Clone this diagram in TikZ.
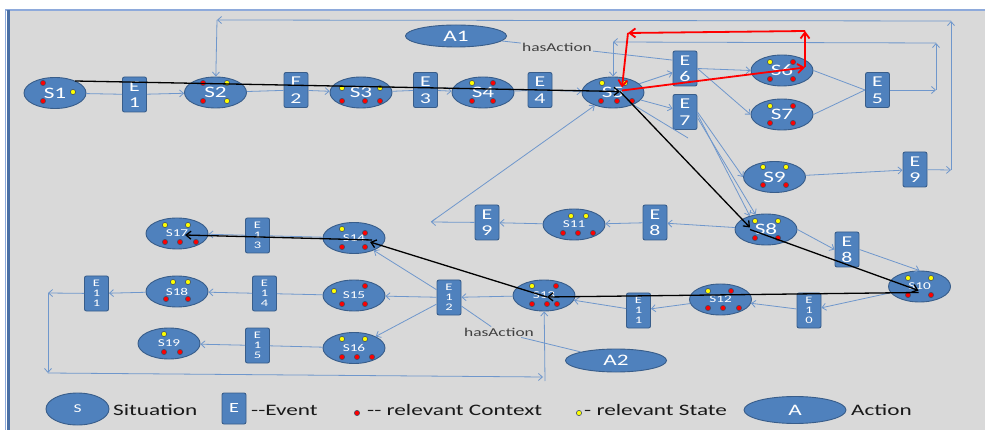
\documentclass[tikz,border=0pt]{standalone}
\usepackage{fontspec}
\setmainfont{Carlito}[FakeStretch=1.45]
\usetikzlibrary{arrows.meta,shapes.geometric}
\definecolor{bgc}{HTML}{D9D9D9}
\definecolor{nfill}{HTML}{4F81BD}
\definecolor{ndraw}{HTML}{385D8A}
\definecolor{lnblue}{HTML}{6F97CC}
\definecolor{frameL}{HTML}{4A6FA5}
\definecolor{frameT}{HTML}{8EAADB}
\definecolor{dotred}{HTML}{FF0000}
\definecolor{dotyel}{HTML}{FFFF00}
\definecolor{dotrim}{HTML}{3F4F6A}
\newcommand\rdotat[2]{\filldraw[rdot] (#1,#2) circle (2.6pt);}
\newcommand\ydotat[2]{\filldraw[ydot] (#1,#2) circle (2.6pt);}
\tikzset{
 snode/.style={ellipse, fill=nfill, draw=ndraw, line width=0.9pt, minimum width=62pt, minimum height=31pt, inner sep=0pt, text=white, font=\fontsize{16}{17}\selectfont},
 ssmall/.style={snode, font=\fontsize{10.5}{11}\selectfont},
 ebox/.style={rectangle, rounded corners=2pt, fill=nfill, draw=ndraw, line width=0.9pt, minimum width=24pt, minimum height=35pt, inner sep=0pt, text=white, align=center, font=\fontsize{15}{16.5}\selectfont},
 esmall/.style={ebox, font=\fontsize{10}{10}\selectfont},
 anode/.style={ellipse, fill=nfill, draw=ndraw, line width=0.9pt, minimum width=101pt, minimum height=22pt, inner sep=0pt, text=white, font=\fontsize{16}{17}\selectfont},
 blink/.style={draw=lnblue, line width=0.8pt},
 barr/.style={blink, -{Straight Barb[length=4pt,width=7pt]}},
 karr/.style={draw=black, line width=1.3pt, -{Straight Barb[length=5pt,width=8pt]}},
 rarr/.style={draw=red, line width=1.8pt, -{Straight Barb[length=6pt,width=9pt]}},
 rdot/.style={fill=dotred, draw=dotrim, line width=0.6pt},
 ydot/.style={fill=dotyel, draw=dotrim, line width=0.6pt},
 legtext/.style={anchor=west, inner sep=0pt, text=black!90, font=\fontsize{16}{17}\selectfont},
 hastext/.style={inner sep=1pt, text=black!75, font=\fontsize{12}{13}\selectfont},
}
\begin{document}
\begin{tikzpicture}[x=1pt,y=-1pt]
\useasboundingbox (0,0) rectangle (985,430);
% frame
\fill[white] (0,0) rectangle (985,430);
\fill[bgc] (7,10) rectangle (985,430);
\draw[frameT, line width=1.5pt] (5,10) -- (985,10);
\draw[frameT, line width=1.2pt] (5.5,10) -- (5.5,430);
\draw[frameL, line width=3pt] (8.5,10) -- (8.5,430);

% nodes
\node[snode] (S1) at (55,93) {S1};
\node[ebox] (E1) at (134.5,94.5) {E\\1};
\node[snode] (S2) at (215.5,92.5) {S2};
\node[ebox] (E2) at (296,90) {E\\2};
\node[snode] (S3) at (361,92.5) {S3};
\node[ebox] (E3) at (425.5,90) {E\\3};
\node[snode] (S4) at (483,92.5) {S4};
\node[ebox] (E4) at (540,90) {E\\4};
\node[snode] (S5) at (613,92.5) {S5};
\node[anode] (A1) at (456,36) {A1};
\node[hastext] (H1) at (557,47) {hasAction};
\node[ebox] (E6) at (685,68.5) {E\\6};
\node[ebox] (E7) at (685,112) {E\\7};
\node[snode] (S6) at (782,70.5) {S6};
\node[snode] (S7) at (782,114.5) {S7};
\node[ebox] (E5) at (877.5,90) {E\\5};
\node[snode] (S9) at (774.5,177) {S9};
\node[ebox] (E9r) at (915,169.5) {E\\9};
\node[snode] (S8) at (766,229.5) {S8};
\node[ebox] (E8r) at (847,249.5) {E\\8};
\node[ssmall] (S10) at (919.5,286.5) {S10};
\node[esmall] (E10) at (809,310.5) {E\\1\\0};
\node[ssmall] (S12) at (720.5,299.5) {S12};
\node[esmall] (E11r) at (638.5,310.5) {E\\1\\1};
\node[ebox] (E8l) at (655,222.5) {E\\8};
\node[ssmall] (S11) at (574,224.5) {S11};
\node[ebox] (E9l) at (487,222.5) {E\\9};
\node[ssmall] (S13) at (544,295.5) {S13};
\node[esmall] (E12) at (449,297.5) {E\\1\\2};
\node[ssmall] (S14) at (354,238) {S14};
\node[ssmall] (S15) at (354,295.5) {S15};
\node[ssmall] (S16) at (354,348) {S16};
\node[anode, minimum height=23pt] (A2) at (616,360.5) {A2};
\node[hastext] (H2) at (499,332) {hasAction};
\node[ssmall] (S17) at (177,233.5) {S17};
\node[esmall] (E13) at (257.5,235.5) {E\\1\\3};
\node[ssmall] (S18) at (177,291.5) {S18};
\node[esmall] (E14) at (264.5,293.5) {E\\1\\4};
\node[esmall] (E11l) at (96.5,293.5) {E\\1\\1};
\node[ssmall] (S19) at (169,343.5) {S19};
\node[esmall] (E15) at (257.5,345.5) {E\\1\\5};

% coordinates
\coordinate (t1) at (951,170);
\coordinate (t2) at (951,21);
\coordinate (t3) at (217,20);
\coordinate (u1) at (936,90);
\coordinate (u2) at (936,43);
\coordinate (u3) at (613,42);
\coordinate (v1) at (431,222);
\coordinate (w1) at (48,293);
\coordinate (w2) at (48,373);
\coordinate (w3) at (543,377);
\coordinate (w4) at (545,381);
\coordinate (st) at (688,138);
\coordinate (r2) at (805,31);
\coordinate (r3) at (628,33);

% blue connectors
\draw[blink] (S1) -- (E1);
\draw[barr] (E1) -- (S2);
\draw[blink] (S2) -- (E2);
\draw[barr] (E2) -- (S3);
\draw[blink] (S3) -- (E3);
\draw[barr] (E3) -- (S4);
\draw[blink] (S4) -- (E4);
\draw[barr] (E4) -- (S5);
\draw[barr] (S5) -- (E6);
\draw[barr] (S5) -- (E7);
\draw[blink] (S5) -- (st);
\draw[barr] (E6.east) -- (S6.west);
\draw[barr] (E6.east) -- (S7.west);
\draw[blink] (S6.east) -- (E5.west);
\draw[blink] (S7.east) -- (E5.west);
\draw[barr] (E7.east) -- (S9.west);
\draw[barr] (E7.-10) -- (S8.140);
\draw[barr] (E7.-25) -- (S8.125);
\draw[barr] (S9) -- (E9r);
\draw[barr] (E9r) -- (t1);
\draw[barr] (t1) -- (t2);
\draw[barr] (t2) -- (t3);
\draw[barr] (t3) -- (S2);
\draw[barr] (E5) -- (u1);
\draw[barr] (u1) -- (u2);
\draw[barr] (u2) -- (u3);
\draw[barr] (u3) -- (S5);
\draw[barr] (S8) -- (E8l);
\draw[barr] (E8l) -- (S11);
\draw[barr] (S11) -- (E9l);
\draw[barr] (E9l) -- (v1);
\draw[barr] (v1) -- (S5);
\draw[barr] (S8.east) -- (E8r.west);
\draw[barr] (E8r.east) -- (S10.north);
\draw[barr] (S10) -- (E10);
\draw[barr] (E10) -- (S12);
\draw[barr] (S12) -- (E11r);
\draw[barr] (E11r) -- (S13);
\draw[barr] (S13) -- (E12);
\draw[barr] (E12) -- (S14);
\draw[barr] (E12) -- (S15);
\draw[barr] (E12) -- (S16);
\draw[blink] (S14) -- (E13);
\draw[barr] (E13) -- (S17);
\draw[blink] (S15) -- (E14);
\draw[barr] (E14) -- (S18);
\draw[blink] (S16) -- (E15);
\draw[barr] (E15) -- (S19);
\draw[barr] (S18) -- (E11l);
\draw[barr] (E11l) -- (w1);
\draw[barr] (w1) -- (w2);
\draw[barr] (w2) -- (w3);
\draw[barr] (w4) -- (S13);
\draw[blink] (A1) -- (H1);
\draw[blink] (H1) -- (E6.146);
\draw[blink] (E12) -- (H2);
\draw[blink] (H2) -- (A2);

% dots
\rdotat{43}{83}\rdotat{43}{101}\ydotat{73}{92}
\rdotat{203}{83}\ydotat{227}{83}\rdotat{203}{101}\ydotat{227}{101}
\ydotat{342}{88}\ydotat{380}{88}\rdotat{342}{101}\rdotat{365}{101}\rdotat{380}{101}
\ydotat{472}{83}\rdotat{493}{83}\rdotat{472}{101}\rdotat{493}{101}
\ydotat{602}{83}\ydotat{625}{83}\rdotat{601}{101}\rdotat{617}{101}\rdotat{632}{101}
\ydotat{770}{62}\rdotat{793}{62}\rdotat{770}{79}\rdotat{793}{79}
\ydotat{770}{106}\rdotat{793}{106}\rdotat{770}{123}\rdotat{793}{123}
\ydotat{763}{167}\ydotat{786}{167}\rdotat{763}{185}\rdotat{786}{185}
\ydotat{755}{221}\ydotat{778}{221}\rdotat{755}{238}\rdotat{778}{238}
\ydotat{908}{278}\ydotat{931}{278}\rdotat{908}{295}\rdotat{931}{295}
\ydotat{708}{291}\rdotat{731}{291}\rdotat{708}{308}\rdotat{723}{308}\rdotat{739}{308}
\ydotat{571}{216}\ydotat{586}{216}\rdotat{563}{233}\rdotat{578}{233}\rdotat{593}{233}
\ydotat{532}{286}\rdotat{556}{286}\rdotat{532}{304}\rdotat{547}{304}\rdotat{557}{304}
\ydotat{342}{229}\rdotat{365}{233}\rdotat{342}{247}\rdotat{365}{247}
\ydotat{334}{291}\rdotat{365}{286}\rdotat{342}{304}\rdotat{365}{304}
\ydotat{342}{339}\ydotat{365}{339}\rdotat{342}{357}\rdotat{357}{357}\rdotat{372}{357}
\ydotat{165}{225}\ydotat{188}{225}\rdotat{165}{242}\rdotat{180}{242}\rdotat{196}{242}
\ydotat{173}{282}\ydotat{188}{282}\rdotat{166}{299}\rdotat{188}{299}
\ydotat{164}{334}\rdotat{164}{352}\rdotat{180}{352}

% black path
\draw[karr] ([shift={(20,-12)}]S1.center) -- ([shift={(7,-1)}]S5.center);
\draw[karr] ([shift={(7,-1)}]S5.center) -- ([shift={(-16,-2)}]S8.center);
\draw[karr] ([shift={(-16,0)}]S8.center) -- ([shift={(-1,4)}]S10.center);
\draw[karr] ([shift={(-1,6)}]S10.center) -- ([shift={(3,1.5)}]S13.center);
\draw[karr] ([shift={(3,1.5)}]S13.center) -- ([shift={(16,4)}]S14.center);
\draw[karr] ([shift={(18,2)}]S14.center) -- ([shift={(8,1.5)}]S17.center);

% red path
\draw[rarr] ([shift={(9,-2)}]S5.center) -- ([shift={(23,-3)}]S6.center);
\draw[rarr] ([shift={(23,-3)}]S6.center) -- (r2);
\draw[rarr] (r2) -- (r3);
\draw[rarr] (r3) -- ([shift={(9,-5)}]S5.center);

% legend
\node[snode, minimum width=63pt, minimum height=32pt, font=\fontsize{12}{13}\selectfont] (LS) at (77.5,409) {S};
\node[legtext] (LSt) at (113,410) {Situation};
\node[ebox, minimum width=24pt, minimum height=31pt, font=\fontsize{14}{15}\selectfont] (LE) at (234,408.5) {E};
\node[legtext] (LEt) at (251,410) {-{}-Event};
\rdotat{357}{413}
\node[legtext] (LCt) at (367,410) {-{}- relevant Context};
\ydotat{579}{413}
\node[legtext] (LYt) at (584,410) {- relevant State};
\node[anode, minimum width=102pt, minimum height=27pt] (LA) at (795,410) {A};
\node[legtext] (LAt) at (851,410) {Action};
\end{tikzpicture}
\end{document}
